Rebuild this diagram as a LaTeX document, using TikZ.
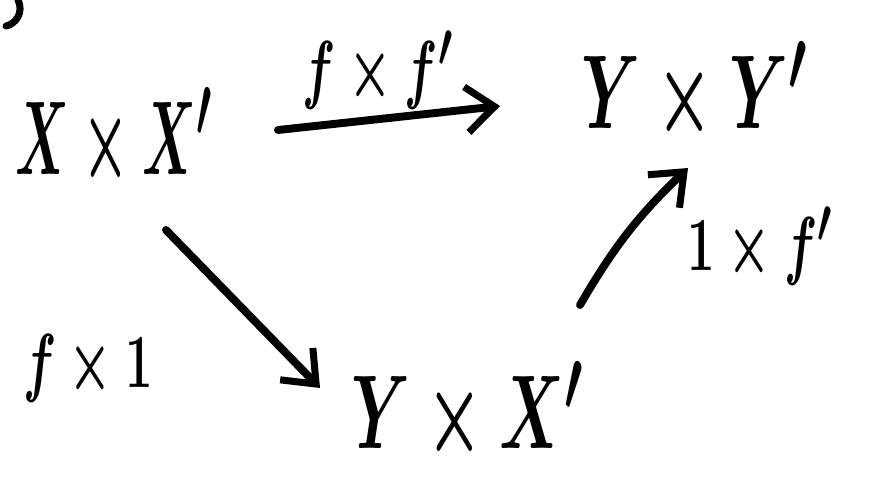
\documentclass[tikz,border=0pt]{standalone}
\usetikzlibrary{arrows.meta}
\newcommand{\hwbig}[2][1.45]{\scalebox{#1}[2.4]{\Huge\boldmath$#2$}}
\newcommand{\hwsmall}[1]{\scalebox{1.12}[1.75]{\Huge\boldmath$#1$}}
\tikzset{
  obj/.style={inner sep=0pt},
  lab/.style={inner sep=0pt},
  arr/.style={line width=4.5pt, line cap=round, -{Straight Barb[length=16pt,width=26pt,line width=4pt]}},
}
\begin{document}
\begin{tikzpicture}[x=0.02cm,y=-0.02cm]
\useasboundingbox (0,0) rectangle (869,495);
\node[obj] (XX) at (114,138) {\hwbig[1.2]{X\times X'}};
\node[obj] (YY) at (695,92) {\hwbig{Y\times Y'}};
\node[obj] (YX) at (468,412) {\hwbig{Y\times X'}};
\node[lab] (ff) at (378,70) {\hwsmall{f\times f'}};
\node[lab] (f1) at (88,368) {\hwsmall{f\times 1}};
\node[lab] (1f) at (760,246) {\hwsmall{1\times f'}};
\coordinate (a1) at (278,130);
\coordinate (a2) at (500,106);
\draw[arr] (a1) -- (a2);
\coordinate (b1) at (166,230);
\coordinate (b2) at (320,388);
\draw[arr] (b1) -- (b2);
\coordinate (c1) at (580,305);
\coordinate (c2) at (688,168);
\draw[arr] (c1) to[bend left=8] (c2);
\draw[line width=4pt, line cap=round] (18,0) .. controls (24,12) and (16,24) .. (6,26);
\end{tikzpicture}
\end{document}
